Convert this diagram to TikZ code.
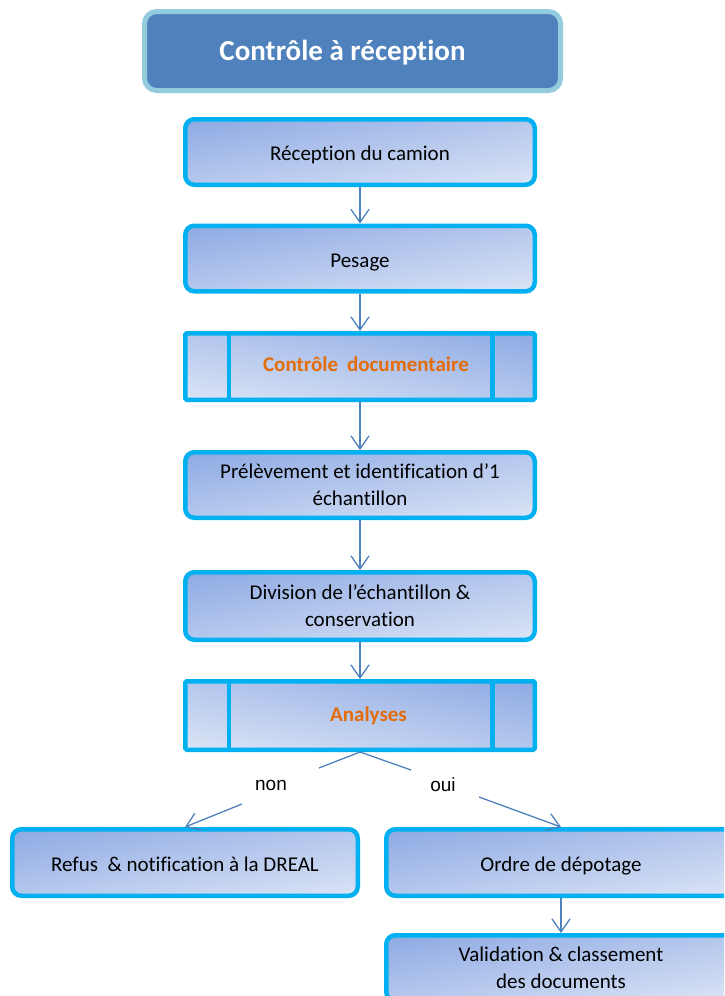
\documentclass[tikz,border=0pt]{standalone}
\usepackage{fontspec}
\setmainfont{Carlito}[Ligatures=NoCommon]
\newfontfamily\arialfont{Liberation Sans}
\usetikzlibrary{arrows.meta,calc}
\definecolor{titlefill}{RGB}{79,129,189}
\definecolor{titleline}{RGB}{147,205,221}
\definecolor{boxline}{RGB}{0,176,240}
\definecolor{shdark}{RGB}{142,170,228}
\definecolor{shlight}{RGB}{220,229,246}
\definecolor{arrowc}{RGB}{79,129,189}
\definecolor{orangetxt}{RGB}{228,108,10}
\tikzset{
  titlebox/.style={draw=titleline, fill=titlefill, line width=5pt, rounded corners=12pt,
    minimum width=416pt, minimum height=79pt, inner sep=0pt, text=white,
    text height=18pt, text depth=0pt,
    font=\fontsize{29}{32}\selectfont\bfseries},
  procbox/.style={draw=boxline, line width=4.5pt, rounded corners=9pt,
    minimum width=349.5pt, minimum height=65.5pt, inner sep=0pt,
    left color=shdark, right color=shlight,
    path picture={\shade[top color=shdark, bottom color=shlight, fill opacity=0.5]
      (path picture bounding box.north west) rectangle (path picture bounding box.south east);},
    align=center, font=\fontsize{21}{27}\selectfont},
  predef/.style={draw=boxline, line width=4.5pt, rounded corners=1.5pt,
    minimum width=349.5pt, minimum height=65.5pt, inner sep=0pt,
    left color=shlight, right color=shdark,
    path picture={\shade[top color=shdark, bottom color=shlight, fill opacity=0.5]
      (path picture bounding box.north west) rectangle (path picture bounding box.south east);},
    align=center, text=orangetxt, font=\fontsize{21}{27}\selectfont\bfseries},
  oneline/.style={text height=#1, text depth=0pt},
  innerline/.style={draw=boxline, line width=4.5pt, shorten <=2.25pt, shorten >=2.25pt},
  flow/.style={draw=arrowc, line width=1.3pt, -{Straight Barb[length=13pt,width=18pt]}},
  plainline/.style={draw=arrowc, line width=1.3pt},
  lbl/.style={font=\arialfont\fontsize{19}{22}\selectfont, inner sep=0pt}
}
\begin{document}
\begin{tikzpicture}[x=1pt,y=-1pt]
\useasboundingbox (0,0) rectangle (724,996);
\clip (0,0) rectangle (724,996);

\node[titlebox] (title) at (352.5,51) {Contrôle à réception\hspace*{20pt}};

\node[procbox, oneline=16pt] (b1) at (360,152) {Réception du camion};
\node[procbox, oneline=17pt] (b2) at (360,258.5) {Pesage};
\node[predef, oneline=10.5pt, minimum height=66.5pt] (b3) at (360,366.5) {\hspace*{12pt}Contrôle\hspace{9pt}documentaire};
\node[procbox] (b4) at (360,485) {Prélèvement et identification d’1\\échantillon};
\node[procbox, minimum height=67.5pt] (b5) at (360,606) {Division de l’échantillon \&\\conservation};
\node[predef, oneline=11pt, minimum height=68.5pt] (b6) at (360,715.5) {\hspace*{17pt}Analyses};

\node[procbox, oneline=18pt, minimum width=345.5pt, minimum height=66.5pt] (left) at (185,862.5) {Refus\ \ \& notification à la DREAL};
\node[procbox, oneline=17pt, minimum height=66.5pt] (right) at (561,862.5) {Ordre de dépotage};
\node[procbox] (bottom) at (561,968) {Validation \& classement\\des documents};

% predefined-process inner lines
\draw[innerline] ($(b3.north west)+(46,0)$) -- ($(b3.south west)+(46,0)$);
\draw[innerline] ($(b3.north east)+(-44.5,0)$) -- ($(b3.south east)+(-44.5,0)$);
\draw[innerline] ($(b6.north west)+(46,0)$) -- ($(b6.south west)+(46,0)$);
\draw[innerline] ($(b6.north east)+(-44.5,0)$) -- ($(b6.south east)+(-44.5,0)$);

% vertical flow
\draw[flow] (b1.south) -- (b2.north);
\draw[flow] (b2.south) -- (b3.north);
\draw[flow] (b3.south) -- (b4.north);
\draw[flow] (b4.south) -- (b5.north);
\draw[flow] (b5.south) -- (b6.north);
\draw[flow] (right.south) -- (bottom.north);

% branches
\coordinate (nA) at (319,768);
\coordinate (nB) at (242,804);
\coordinate (oA) at (411,770);
\coordinate (oB) at (479,797);
\draw[plainline] (b6.south) -- (nA);
\draw[flow] (nB) -- (left.north);
\draw[plainline] (b6.south) -- (oA);
\draw[flow] (oB) -- (right.north);

\node[lbl] (non) at (271,785) {non};
\node[lbl] (oui) at (443,785) {oui};
\end{tikzpicture}
\end{document}
